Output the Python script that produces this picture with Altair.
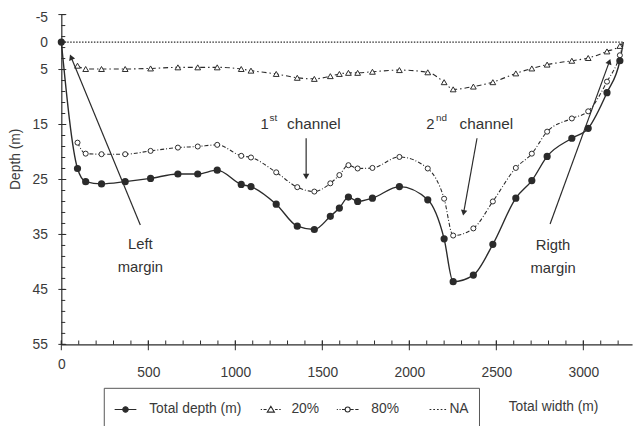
import altair as alt
import pandas as pd

# ---------------- data ----------------
stations = [0, 93, 140, 231, 367, 513, 670, 784, 896, 1034, 1090, 1235, 1356, 1454,
            1546, 1598, 1650, 1703, 1788, 1943, 2106, 2200, 2252, 2368, 2480, 2612,
            2704, 2792, 2934, 3028, 3136, 3210]
total_depth = [0, 23.0, 25.4, 25.8, 25.4, 24.8, 24.0, 24.0, 23.3, 25.9, 26.3, 29.5,
               33.5, 34.1, 31.7, 30.2, 28.2, 29.0, 28.4, 26.3, 28.7, 35.8, 43.6, 42.4,
               36.8, 28.4, 25.2, 20.8, 17.5, 15.7, 9.2, 3.4]
depth_80 = [None, 18.3, 20.3, 20.4, 20.4, 19.8, 19.2, 19.0, 18.7, 20.7, 21.0, 23.7,
            26.4, 27.2, 25.7, 24.2, 22.4, 23.0, 22.9, 20.9, 23.0, 28.5, 35.2, 33.9,
            29.0, 22.9, 20.3, 16.3, 13.9, 12.6, 7.2, 2.4]
depth_20 = [None, 4.3, 4.9, 4.9, 4.9, 4.8, 4.6, 4.6, 4.6, 4.9, 5.2, 5.8,
            6.5, 6.7, 6.2, 5.8, 5.6, 5.6, 5.4, 5.1, 5.5, 7.3, 8.6, 8.1,
            7.3, 5.7, 4.8, 4.1, 3.4, 2.9, 1.7, 0.7]
right_edge_x = 3230
right_edge_depth = 0
na_x = [0, 3230]
na_depth = [0, 0]

legend_names = ["Total depth (m)", "20%", "80%", "NA"]

x_ticks_major = [0, 500, 1000, 1500, 2000, 2500, 3000]
x_ticks_minor = list(range(0, 3201, 100))
y_tick_labels = [-5, 0, 5, 15, 25, 35, 45, 55]
y_ticks_minor = list(range(-5, 56, 2))

# annotations (data coordinates)
note_text = ["Left\nmargin", "Rigth\nmargin"]
note_x = [454, 2826]
note_d = [36.8, 36.9]

ch_main_text = ["1", "2"]
ch_main_x = [1192, 2145]
ch_sup_text = ["st", "nd"]
ch_sup_x = [1197, 2154]
ch_word_x = [1297, 2289]
ch_d = [14.9, 14.9]

arrow_x1 = [454, 1407, 2389, 2809]
arrow_d1 = [33.3, 17.5, 17.5, 33.1]
arrow_x2 = [58, 1407, 2313, 3148]
arrow_d2 = [2.9, 24.3, 30.9, 3.7]
arrow_angle = [337.6, 180, 190.2, 20.1]

# ---------------- build tables ----------------
def series_df(vals):
    rows = [{"x": s, "d": v, "m": True} for s, v in zip(stations, vals) if v is not None]
    rows.append({"x": right_edge_x, "d": right_edge_depth, "m": False})
    return pd.DataFrame(rows)

df_total = series_df(total_depth)
df_80 = series_df(depth_80)
df_20 = series_df(depth_20)
df_na = pd.DataFrame({"x": na_x, "d": na_depth})

W, H = 578, 334
INK = "#2b2b2b"
FONT = "Liberation Sans"

xs = alt.Scale(domain=[0, 3280], nice=False, zero=False)
ys = alt.Scale(domain=[-5, 55], reverse=True, nice=False, zero=False)

x_axis = alt.Axis(values=x_ticks_major, ticks=False, grid=False, format="d",
                  labelPadding={"condition": {"test": "datum.value == 0", "value": 13}, "value": 22},
                  title="Total width (m)", titleX=498, titleY=63, titleAlign="center",
                  titleBaseline="middle", labelFlush=False)
y_axis = alt.Axis(values=y_tick_labels, ticks=False, grid=False, labelPadding=14,
                  labelExpr="datum.value < 0 ? '-' + abs(datum.value) : '' + datum.value",
                  labelOffset={"condition": {"test": "datum.value == -5", "value": 3}, "value": 0},
                  title="Depth (m)", titleX=-46, titleY=146, titleAlign="center",
                  titleBaseline="middle", titleAngle=-90)


def X(f):
    return alt.X(f, type="quantitative", scale=xs, axis=x_axis)


def Y(f):
    return alt.Y(f, type="quantitative", scale=ys, axis=y_axis)


# lines
line_total = alt.Chart(df_total).mark_line(interpolate="monotone", color=INK, strokeWidth=1.4).encode(
    x=X("x"), y=Y("d"))
line_80 = alt.Chart(df_80).mark_line(interpolate="monotone", color=INK, strokeWidth=1.1,
                                     strokeDash=[4, 2, 1, 2]).encode(x=X("x"), y=Y("d"))
line_20 = alt.Chart(df_20).mark_line(interpolate="monotone", color=INK, strokeWidth=1.1,
                                     strokeDash=[5, 3, 1.5, 3]).encode(x=X("x"), y=Y("d"))
line_na = alt.Chart(df_na).mark_line(color=INK, strokeWidth=1.2, strokeDash=[1.5, 1.5]).encode(
    x=X("x"), y=Y("d"))

# markers
pts_total = alt.Chart(df_total).transform_filter("datum.m").mark_point(
    shape="circle", filled=True, fill=INK, stroke=INK, size=28, opacity=1).encode(x=X("x"), y=Y("d"))
pts_80 = alt.Chart(df_80).transform_filter("datum.m").mark_point(
    shape="circle", filled=True, fill="white", stroke=INK, strokeWidth=1, size=26, opacity=1).encode(
    x=X("x"), y=Y("d"))
pts_20 = alt.Chart(df_20).transform_filter("datum.m").mark_point(
    shape="triangle-up", filled=True, fill="white", stroke=INK, strokeWidth=1, size=34, opacity=1).encode(
    x=X("x"), y=Y("d"))

# axis ticks (inside minor, crossing major)
df_xmin = pd.DataFrame({"x": x_ticks_minor})
df_xmaj = pd.DataFrame({"x": x_ticks_major})
df_ymin = pd.DataFrame({"d": y_ticks_minor})
df_ymaj = pd.DataFrame({"d": y_tick_labels})

tick_xmin = alt.Chart(df_xmin).mark_tick(orient="vertical", size=4, thickness=1, color=INK, opacity=1).encode(
    x=X("x"), y=alt.value(H - 2))
tick_xmaj = alt.Chart(df_xmaj).mark_tick(orient="vertical", size=10, thickness=1, color=INK, opacity=1).encode(
    x=X("x"), y=alt.value(H + 1))
tick_ymin = alt.Chart(df_ymin).mark_tick(orient="horizontal", size=4, thickness=1, color=INK, opacity=1).encode(
    y=Y("d"), x=alt.value(2))
tick_ymaj = alt.Chart(df_ymaj).mark_tick(orient="horizontal", size=8, thickness=1, color=INK, opacity=1).encode(
    y=Y("d"), x=alt.value(1))

# annotations
df_notes = pd.DataFrame({"x": note_x, "d": note_d, "t": note_text})
notes = alt.Chart(df_notes).mark_text(lineBreak="\n", lineHeight=23, fontSize=15, font=FONT,
                                      color="#333", align="center", baseline="middle").encode(
    x=X("x"), y=Y("d"), text="t:N")

df_ch = pd.DataFrame({"xm": ch_main_x, "xs": ch_sup_x, "xw": ch_word_x, "d": ch_d,
                      "tm": ch_main_text, "ts": ch_sup_text})
ch_main = alt.Chart(df_ch).mark_text(fontSize=15, font=FONT, color="#333", align="right",
                                     baseline="middle").encode(x=X("xm"), y=Y("d"), text="tm:N")
ch_sup = alt.Chart(df_ch).mark_text(fontSize=10, font=FONT, color="#333", align="left",
                                    baseline="middle", dy=-6).encode(x=X("xs"), y=Y("d"), text="ts:N")
ch_word = alt.Chart(df_ch).mark_text(fontSize=15.5, font=FONT, color="#333", align="left",
                                     baseline="middle").encode(x=X("xw"), y=Y("d"),
                                                               text=alt.value("channel"))

df_arr = pd.DataFrame({"x1": arrow_x1, "d1": arrow_d1, "x2": arrow_x2, "d2": arrow_d2,
                       "a": arrow_angle})
arr_line = alt.Chart(df_arr).mark_rule(color=INK, strokeWidth=1.2).encode(
    x=X("x1"), y=Y("d1"), x2="x2:Q", y2="d2:Q")
arr_head = alt.Chart(df_arr).mark_point(shape="triangle", filled=True, color=INK, size=42,
                                        opacity=1).encode(
    x=X("x2"), y=Y("d2"), angle=alt.Angle("a:Q", scale=None))

# legend (built by Vega-Lite from scales with a fixed domain)
leg_paths = [
    "M-1,0L1,0M-0.25,0A0.25,0.25,0,1,0,0.25,0A0.25,0.25,0,1,0,-0.25,0Z",
    "M-0.64,0L-0.52,0M-0.38,0L-0.1,0M0.68,0L0.92,0M1.06,0L1.2,0M0.29,-0.3L0.62,0.24L-0.04,0.24Z",
    "M-1,0L-0.9,0M-0.75,0L-0.65,0M-0.52,0L-0.25,0M0.25,0L0.55,0M0.7,0L1,0"
    "M-0.23,0A0.23,0.23,0,1,0,0.23,0A0.23,0.23,0,1,0,-0.23,0Z",
    "M0.36,0h0.16M0.70,0h0.16M1.04,0h0.16M1.38,0h0.16M1.72,0h0.16",
]
leg = alt.Legend(title=None)
df_leg = pd.DataFrame({"series": legend_names, "x": [0] * 4, "d": [0] * 4})
legend_layer = alt.Chart(df_leg).transform_filter("false").mark_point(
    filled=True, opacity=1, strokeWidth=1.1).encode(
    x=X("x"), y=Y("d"),
    shape=alt.Shape("series:N", scale=alt.Scale(domain=legend_names, range=leg_paths), legend=leg),
    fill=alt.Fill("series:N", scale=alt.Scale(domain=legend_names,
                                              range=[INK, "white", "white", "white"]), legend=leg),
    stroke=alt.Stroke("series:N", scale=alt.Scale(domain=legend_names,
                                                  range=[INK, INK, INK, INK]), legend=leg),
)

chart = alt.layer(
    line_na, line_20, line_80, line_total,
    pts_20, pts_80, pts_total,
    tick_xmin, tick_xmaj, tick_ymin, tick_ymaj,
    arr_line, arr_head, notes, ch_main, ch_sup, ch_word,
    legend_layer,
).properties(
    width=W, height=H,
    autosize=alt.AutoSizeParams(type="none"),
    padding={"left": 54, "top": 4, "right": 4, "bottom": 80},
).configure_view(stroke=None).configure_axis(
    labelFont=FONT, labelFontSize=14, labelColor="#3a3a3a",
    titleFont=FONT, titleFontSize=14, titleFontWeight="normal", titleColor="#3a3a3a",
    domainColor=INK, domainWidth=1.2,
).configure_legend(
    orient="none", legendX=43, legendY=378, direction="horizontal", columns=4,
    strokeColor="#555", padding=10, fillColor="white",
    symbolSize=484, symbolStrokeWidth=1.1, labelOffset=12, columnPadding=14,
    labelFont=FONT, labelFontSize=14, labelColor="#3a3a3a",
)

chart.save("out.html", embed_options={"renderer": "svg", "actions": False})
